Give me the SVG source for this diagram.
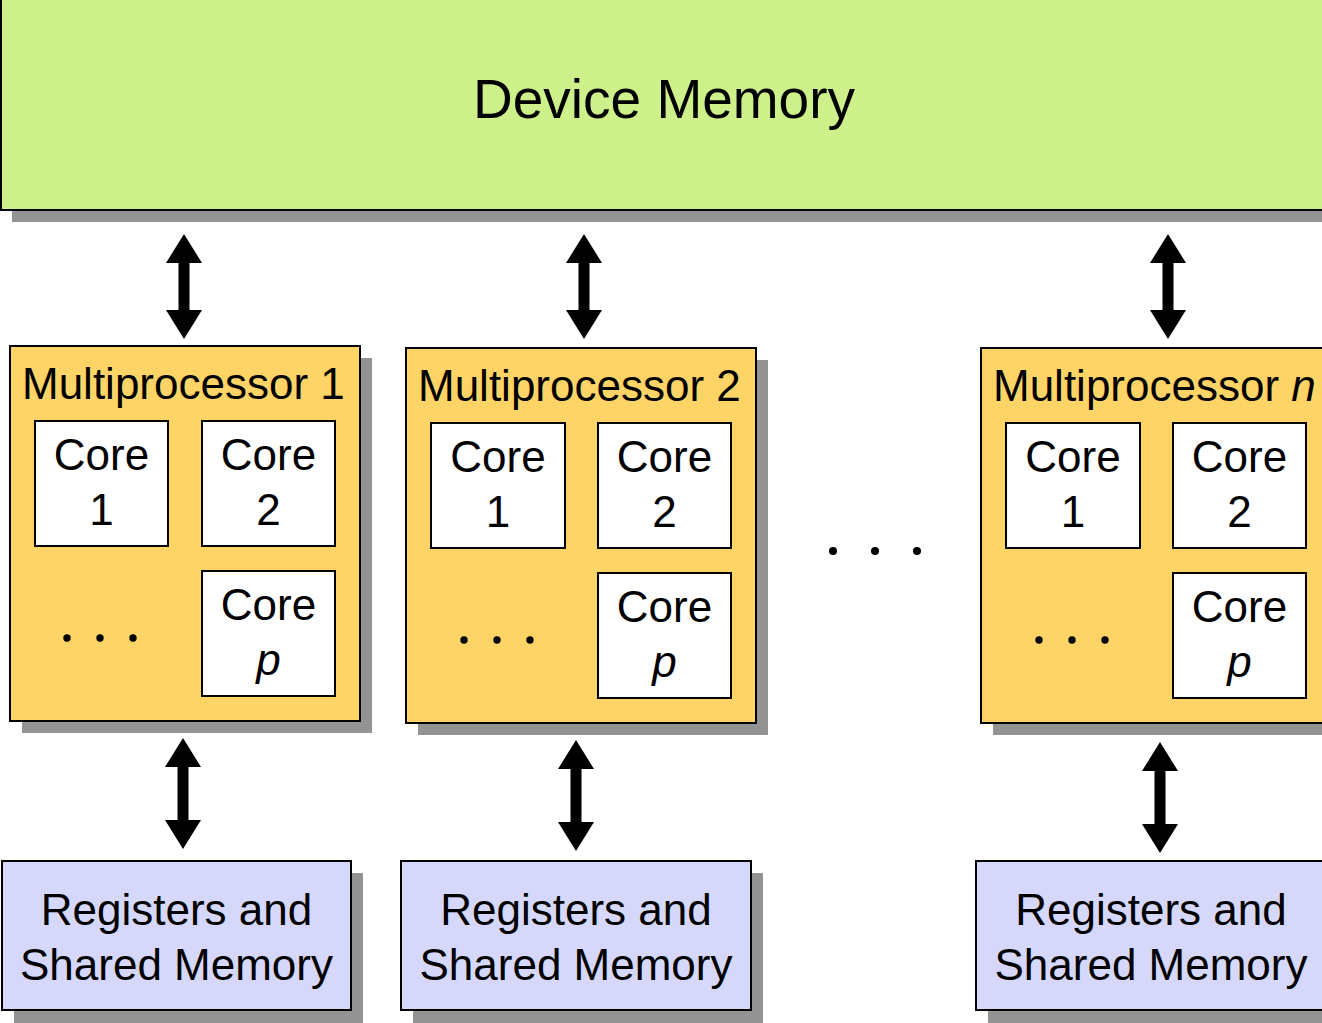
<svg xmlns="http://www.w3.org/2000/svg" width="1322" height="1023" viewBox="0 0 1322 1023">
<style>
text{font-family:"Liberation Sans",Arial,sans-serif;fill:#000}
.shadow{fill:#939393}
.dev{fill:#cdf08b;stroke:#000;stroke-width:2}
.mp{fill:#ffd466;stroke:#000;stroke-width:2}
.core{fill:#fff;stroke:#000;stroke-width:2}
.reg{fill:#d5d8fb;stroke:#000;stroke-width:2}
.t43{font-size:44px}
.title{font-size:44px}
.ctr{text-anchor:middle}
.arrow{fill:#000}
</style>
<defs>
<path id="darrow" d="M0,0 L18,29 L5.5,29 L5.5,76 L18,76 L0,105 L-18,76 L-5.5,76 L-5.5,29 L-18,29 Z"/>
<path id="darrow2" d="M0,0 L18,29 L5.5,29 L5.5,82 L18,82 L0,111 L-18,82 L-5.5,82 L-5.5,29 L-18,29 Z"/>
</defs>

<g id="device-memory">
<rect class="shadow" x="12" y="210" width="1320" height="12"/>
<rect class="dev" x="1" y="-10" width="1330" height="220"/>
<text x="664" y="118" font-size="55" class="ctr">Device Memory</text>
</g>

<g id="mp1">
<rect class="shadow" x="22" y="358" width="350" height="375"/>
<rect class="mp" x="10" y="346" width="350" height="375"/>
<text class="title" x="22" y="399">Multiprocessor 1</text>
<g id="mp1-core1"><rect class="core" x="35" y="421" width="133" height="125"/><text class="t43 ctr" x="101.5" y="470">Core</text><text class="t43 ctr" x="101.5" y="525">1</text></g>
<g id="mp1-core2"><rect class="core" x="202" y="421" width="133" height="125"/><text class="t43 ctr" x="268.5" y="470">Core</text><text class="t43 ctr" x="268.5" y="525">2</text></g>
<g id="mp1-corep"><rect class="core" x="202" y="571" width="133" height="125"/><text class="t43 ctr" x="268.5" y="620">Core</text><text class="t43 ctr" x="268.5" y="675" font-style="italic">p</text></g>
<g id="mp1-dots"><circle cx="67" cy="638" r="3.7"/><circle cx="100" cy="638" r="3.7"/><circle cx="133" cy="638" r="3.7"/></g>
</g>

<g id="mp2">
<rect class="shadow" x="418" y="360" width="350" height="375"/>
<rect class="mp" x="406" y="348" width="350" height="375"/>
<text class="title" x="418" y="401">Multiprocessor 2</text>
<g id="mp2-core1"><rect class="core" x="431" y="423" width="134" height="125"/><text class="t43 ctr" x="498" y="472">Core</text><text class="t43 ctr" x="498" y="527">1</text></g>
<g id="mp2-core2"><rect class="core" x="598" y="423" width="133" height="125"/><text class="t43 ctr" x="664.5" y="472">Core</text><text class="t43 ctr" x="664.5" y="527">2</text></g>
<g id="mp2-corep"><rect class="core" x="598" y="573" width="133" height="125"/><text class="t43 ctr" x="664.5" y="622">Core</text><text class="t43 ctr" x="664.5" y="677" font-style="italic">p</text></g>
<g id="mp2-dots"><circle cx="464" cy="640" r="3.7"/><circle cx="497" cy="640" r="3.7"/><circle cx="530" cy="640" r="3.7"/></g>
</g>

<g id="mid-dots"><circle cx="833" cy="551" r="4"/><circle cx="875" cy="551" r="4"/><circle cx="917" cy="551" r="4"/></g>

<g id="mpn">
<rect class="shadow" x="993" y="360" width="350" height="375"/>
<rect class="mp" x="981" y="348" width="350" height="375"/>
<text class="title" x="993" y="401">Multiprocessor <tspan font-style="italic">n</tspan></text>
<g id="mpn-core1"><rect class="core" x="1006" y="423" width="134" height="125"/><text class="t43 ctr" x="1073" y="472">Core</text><text class="t43 ctr" x="1073" y="527">1</text></g>
<g id="mpn-core2"><rect class="core" x="1173" y="423" width="133" height="125"/><text class="t43 ctr" x="1239.5" y="472">Core</text><text class="t43 ctr" x="1239.5" y="527">2</text></g>
<g id="mpn-corep"><rect class="core" x="1173" y="573" width="133" height="125"/><text class="t43 ctr" x="1239.5" y="622">Core</text><text class="t43 ctr" x="1239.5" y="677" font-style="italic">p</text></g>
<g id="mpn-dots"><circle cx="1039" cy="640" r="3.7"/><circle cx="1072" cy="640" r="3.7"/><circle cx="1105" cy="640" r="3.7"/></g>
</g>

<g id="reg1">
<rect class="shadow" x="14" y="873" width="349" height="150"/>
<rect class="reg" x="2" y="861" width="349" height="149"/>
<text class="t43 ctr" x="176.5" y="925">Registers and</text>
<text class="t43 ctr" x="176.5" y="980">Shared Memory</text>
</g>
<g id="reg2">
<rect class="shadow" x="413" y="873" width="350" height="150"/>
<rect class="reg" x="401" y="861" width="350" height="149"/>
<text class="t43 ctr" x="576" y="925">Registers and</text>
<text class="t43 ctr" x="576" y="980">Shared Memory</text>
</g>
<g id="regn">
<rect class="shadow" x="988" y="873" width="350" height="150"/>
<rect class="reg" x="976" y="861" width="360" height="149"/>
<text class="t43 ctr" x="1151" y="925">Registers and</text>
<text class="t43 ctr" x="1151" y="980">Shared Memory</text>
</g>

<g id="connectors" class="arrow">
<use href="#darrow" x="184" y="234"/>
<use href="#darrow" x="584" y="234"/>
<use href="#darrow" x="1168" y="234"/>
<use href="#darrow2" x="183" y="738"/>
<use href="#darrow2" x="576" y="740"/>
<use href="#darrow2" x="1160" y="742"/>
</g>
</svg>
